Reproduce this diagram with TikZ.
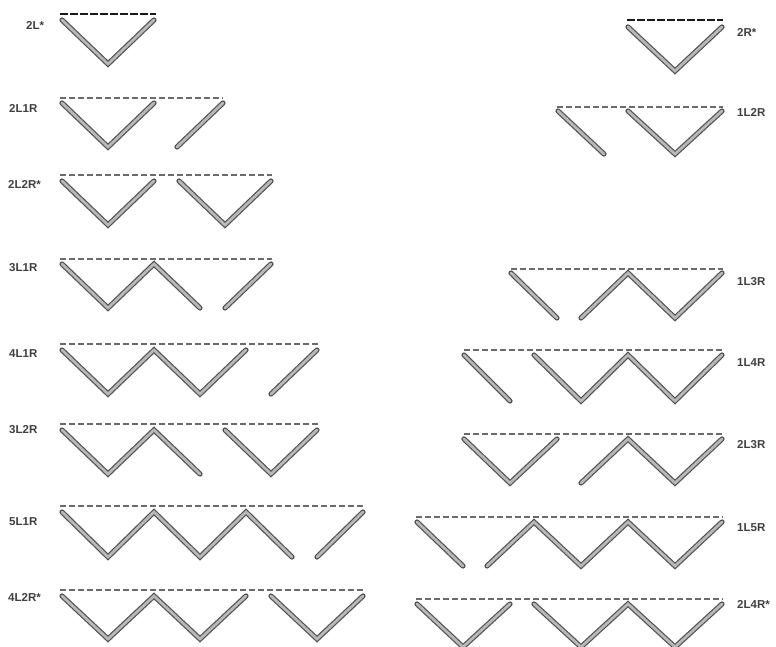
\documentclass[tikz,border=0pt]{standalone}
\usepackage{fontspec}
\setmainfont{Liberation Sans}
\begin{document}
\begin{tikzpicture}[x=1pt,y=-1pt,
  bar/.style={draw=black!68,line width=1.2pt,double=black!28,double distance=2.8pt,line cap=round,line join=miter},
  fold/.style={draw=black!58,line width=1.7pt,dash pattern=on 6pt off 3pt},
  foldtop/.style={draw=black!90,line width=2.6pt,dash pattern=on 8pt off 2pt},
  lbl/.style={font=\bfseries\fontsize{11.5}{13}\selectfont,text=black!75,inner sep=0pt,anchor=west}]
\useasboundingbox[fill=white] (0,0) rectangle (776,646);

% ---------- left column ----------
% 2L*
\draw[foldtop] (60,14) -- (156,14);
\draw[bar] (62,20) -- (108,64) -- (154,20);
\node[lbl] (l1) at (26,25) {2L*};
% 2L1R
\draw[fold] (60,98) -- (223,98);
\draw[bar] (62,103) -- (108,147) -- (154,103);
\draw[bar] (177,147) -- (223,103);
\node[lbl] (l2) at (9,108) {2L1R};
% 2L2R*
\draw[fold] (60,175) -- (272,175);
\draw[bar] (62,181) -- (108,225) -- (154,181);
\draw[bar] (179,181) -- (225,225) -- (271,181);
\node[lbl] (l3) at (8,184) {2L2R*};
% 3L1R
\draw[fold] (60,259) -- (272,259);
\draw[bar] (62,264) -- (108,308) -- (154,264) -- (200,308);
\draw[bar] (225,308) -- (271,264);
\node[lbl] (l4) at (9,268) {3L1R};
% 4L1R
\draw[fold] (60,344) -- (318,344);
\draw[bar] (62,350) -- (108,394) -- (154,350) -- (200,394) -- (246,350);
\draw[bar] (271,394) -- (317,350);
\node[lbl] (l5) at (9,354) {4L1R};
% 3L2R
\draw[fold] (60,424) -- (318,424);
\draw[bar] (62,430) -- (108,474) -- (154,430) -- (200,474);
\draw[bar] (225,430) -- (271,474) -- (317,430);
\node[lbl] (l6) at (9,430) {3L2R};
% 5L1R
\draw[fold] (60,506) -- (364,506);
\draw[bar] (62,512) -- (108,557) -- (154,512) -- (200,557) -- (246,512) -- (292,557);
\draw[bar] (317,557) -- (363,512);
\node[lbl] (l7) at (9,522) {5L1R};
% 4L2R*
\draw[fold] (60,590) -- (364,590);
\draw[bar] (62,596) -- (108,639) -- (154,596) -- (200,639) -- (246,596);
\draw[bar] (271,596) -- (317,639) -- (363,596);
\node[lbl] (l8) at (8,597) {4L2R*};

% ---------- right column ----------
% 2R*
\draw[foldtop] (627,20) -- (723,20);
\draw[bar] (628,27) -- (675,71) -- (722,27);
\node[lbl] (r1) at (737,32) {2R*};
% 1L2R
\draw[fold] (557,107) -- (723,107);
\draw[bar] (558,111) -- (604,154);
\draw[bar] (628,111) -- (675,154) -- (722,111);
\node[lbl] (r2) at (737,112) {1L2R};
% 1L3R
\draw[fold] (511,269) -- (723,269);
\draw[bar] (511,273) -- (557,318);
\draw[bar] (581,318) -- (628,273) -- (675,318) -- (722,273);
\node[lbl] (r3) at (737,282) {1L3R};
% 1L4R
\draw[fold] (464,350) -- (723,350);
\draw[bar] (464,355) -- (510,401);
\draw[bar] (534,355) -- (581,401) -- (628,355) -- (675,401) -- (722,355);
\node[lbl] (r4) at (737,363) {1L4R};
% 2L3R
\draw[fold] (464,434) -- (723,434);
\draw[bar] (464,439) -- (510,483) -- (557,439);
\draw[bar] (581,483) -- (628,439) -- (675,483) -- (722,439);
\node[lbl] (r5) at (737,445) {2L3R};
% 1L5R
\draw[fold] (416,517) -- (723,517);
\draw[bar] (417,522) -- (463,566);
\draw[bar] (487,566) -- (534,522) -- (581,566) -- (628,522) -- (675,566) -- (722,522);
\node[lbl] (r6) at (737,528) {1L5R};
% 2L4R*
\draw[fold] (416,599) -- (723,599);
\draw[bar] (417,604) -- (463,647) -- (510,604);
\draw[bar] (534,604) -- (581,647) -- (628,604) -- (675,647) -- (722,604);
\node[lbl] (r7) at (737,604) {2L4R*};
\end{tikzpicture}
\end{document}
